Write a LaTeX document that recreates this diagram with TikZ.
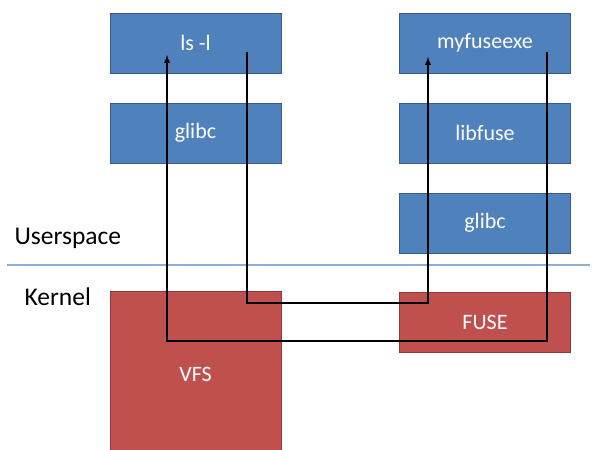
\documentclass[tikz,border=0pt]{standalone}
\usepackage{fontspec}
\setmainfont{Carlito}
\usepackage{tikz}
\usetikzlibrary{arrows,positioning}
\definecolor{userblue}{RGB}{79, 129, 189}
\definecolor{userline}{RGB}{56, 93, 138}
\definecolor{kernred}{RGB}{192, 80, 77}
\definecolor{kernline}{RGB}{140, 56, 54}
\definecolor{sepblue}{RGB}{140, 175, 215}

\begin{document}
\begin{tikzpicture}[
    x=1pt, y=-1pt,
    userbox/.style={draw=userline, fill=userblue, text=white, minimum width=171pt, minimum height=60pt, font=\fontsize{22}{26}\selectfont},
    kernbox/.style={draw=kernline, fill=kernred, text=white, minimum width=171pt, font=\fontsize{22}{26}\selectfont},
    layer/.style={anchor=west, font=\fontsize{25.5}{30}\selectfont},
    flow/.style={draw, line width=1.7pt, -latex}
]
    \useasboundingbox (0,0) rectangle (593,449);
    % userspace, left stack
    \node[userbox] (ls) at (195.5,43) {ls -l};
    \node[userbox] (glibcA) at (195.5,133) {glibc};
    % userspace, right stack
    \node[userbox] (exe) at (485,43) {myfuseexe};
    \node[userbox] (libfuse) at (485,133) {libfuse};
    \node[userbox] (glibcB) at (485,223) {glibc};
    % kernel
    \node[kernbox, minimum height=166pt] (vfs) at (195.5,374) {VFS};
    \node[kernbox, minimum height=60pt] (fuse) at (485,322) {FUSE};
    % split line
    \node[layer] (user) at (11,238) {Userspace};
    \node[layer] (kern) at (21,297) {Kernel};
    \coordinate (sepL) at (7,265);
    \coordinate (sepR) at (590,265);
    \draw[sepblue, line width=1.3pt] (sepL) -- (sepR);
    % request and reply
    \coordinate (lsout) at (247,52);
    \coordinate (exein) at (428,57);
    \coordinate (exeout) at (547,52);
    \coordinate (lsin) at (167,55);
    \draw[flow] (lsout) -- ++(0,251) -| (exein);
    \draw[flow] (exeout) -- ++(0,289) -| (lsin);
\end{tikzpicture}
\end{document}
